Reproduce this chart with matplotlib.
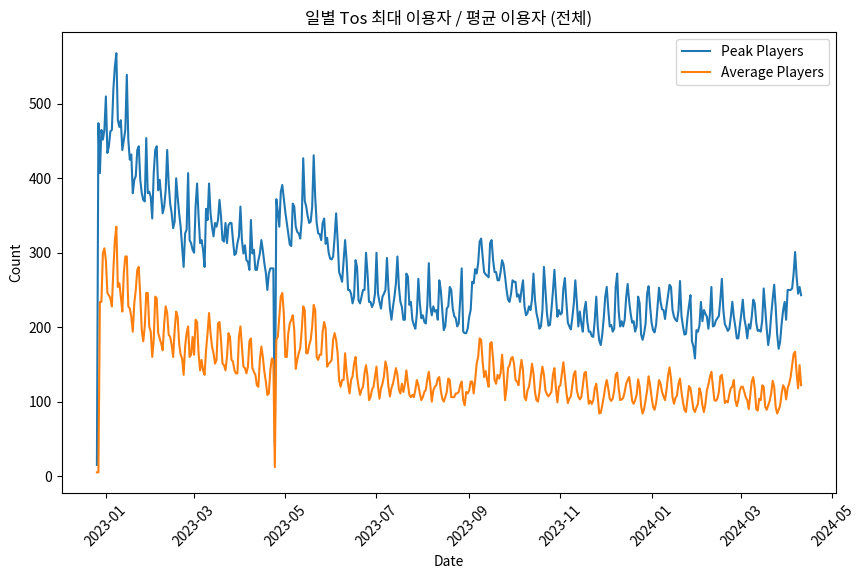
import matplotlib
matplotlib.use("Agg")
import matplotlib.pyplot as plt
import matplotlib.dates as mdates
import pandas as pd

start_date = "2022-12-26"

peak_players = [
    15,474,407,465,452,465,510,434,443,463,
    465,519,550,568,478,469,478,438,452,465,
    539,452,425,432,380,398,403,438,443,398,
    380,371,369,454,380,382,375,346,407,438,
    443,384,398,375,353,362,384,438,393,366,
    353,333,342,400,375,353,335,308,281,326,
    331,407,317,313,304,300,362,393,349,313,
    317,304,281,359,344,393,353,335,322,340,
    335,344,371,349,317,315,340,313,337,340,
    340,317,297,299,313,322,362,317,299,310,
    290,288,277,344,299,304,277,277,290,299,
    317,303,286,273,250,272,279,279,279,40,
    372,355,335,382,391,373,355,340,326,311,
    309,366,362,335,328,326,319,344,427,370,
    362,349,340,342,362,431,375,340,326,325,
    317,340,346,312,320,300,292,291,295,321,
    353,317,274,268,261,290,317,290,250,250,
    245,232,241,290,281,236,232,241,250,250,
    300,272,234,234,227,232,245,300,245,234,
    225,241,245,250,293,252,225,210,227,241,
    259,295,254,234,227,210,210,272,268,230,
    234,210,203,198,218,265,232,212,216,207,
    205,230,286,228,216,228,221,223,210,263,
    250,223,196,201,225,228,254,250,225,215,
    212,201,205,237,279,194,192,192,198,214,
    223,261,259,278,272,286,315,319,295,274,
    271,269,267,313,317,290,274,274,263,263,
    274,290,284,268,250,237,234,245,263,261,
    261,241,244,234,250,263,228,216,219,228,
    223,237,272,237,219,210,198,201,223,281,
    250,219,202,203,223,248,277,243,214,223,
    217,219,252,266,234,206,201,197,213,232,
    263,234,201,221,205,194,223,234,208,194,
    194,188,187,210,241,201,182,176,190,212,
    241,254,225,201,203,194,198,254,272,221,
    201,208,201,210,240,258,235,218,206,208,
    194,201,241,232,190,183,192,205,245,255,
    228,206,196,193,203,228,253,234,224,223,
    211,228,242,257,254,223,214,210,208,222,
    262,215,201,190,191,213,229,243,181,174,
    158,196,194,202,234,208,223,218,214,198,
    217,254,201,202,209,212,215,237,265,223,
    204,200,195,198,214,234,214,201,185,185,
    201,218,237,212,201,185,204,198,214,237,
    232,206,195,196,194,209,252,225,198,176,
    190,216,238,257,227,190,171,181,205,223,
    234,210,250,250,250,252,272,301,268,245,
    254,243,
]

average_players = [
    5,5,234,234,299,306,290,246,243,239,
    228,277,317,335,254,259,241,221,273,295,
    295,228,225,214,194,232,250,277,281,241,
    196,181,201,246,246,201,194,160,183,241,
    239,192,185,178,169,205,228,219,190,187,
    176,160,196,221,214,178,163,158,136,174,
    192,201,160,163,187,163,210,207,165,142,
    156,142,136,169,192,219,192,174,165,151,
    156,205,207,183,151,149,142,160,192,187,
    156,154,142,138,138,187,201,174,147,145,
    138,147,181,185,145,140,136,122,120,156,
    174,160,140,127,109,111,142,158,156,12,
    183,187,214,241,246,219,160,160,192,205,
    210,216,196,144,156,165,172,196,228,223,
    165,165,176,183,201,230,223,160,156,163,
    163,194,207,198,147,151,153,156,183,192,
    183,165,129,120,129,129,165,140,124,111,
    129,134,151,160,134,120,109,116,120,138,
    149,134,102,106,116,120,134,147,120,104,
    118,124,134,154,145,120,107,118,124,134,
    145,136,116,111,124,113,124,142,124,109,
    106,109,106,116,129,122,111,102,106,113,
    116,130,140,122,100,115,120,122,131,133,
    115,104,100,106,113,131,129,106,106,106,
    111,111,113,122,127,102,95,113,111,115,
    127,127,111,129,151,160,185,183,154,133,
    141,129,120,178,180,156,129,124,136,131,
    138,163,138,102,118,145,149,158,160,151,
    129,127,122,142,156,142,106,102,115,120,
    133,151,138,113,102,100,113,133,147,136,
    115,110,107,110,113,136,145,118,99,120,
    122,138,153,134,113,98,104,107,122,137,
    141,115,107,103,106,121,138,140,118,97,
    101,97,102,118,124,106,84,85,95,106,
    120,129,118,104,101,104,115,136,139,118,
    102,103,105,113,124,129,133,118,101,97,
    102,109,130,120,94,84,90,102,115,134,
    122,106,93,89,98,113,129,124,113,107,
    102,116,135,146,131,106,97,105,108,124,
    131,113,99,89,86,104,121,118,104,90,
    86,92,97,118,111,95,86,97,115,123,
    133,140,121,102,101,104,113,134,136,120,
    98,101,99,110,118,120,129,102,94,102,
    115,120,120,113,106,102,90,109,127,133,
    118,90,88,104,102,122,120,93,89,95,
    101,111,128,120,93,84,89,95,111,122,
    118,103,118,124,133,149,164,167,138,118,
    149,122,
]

title = "일별 Tos 최대 이용자 / 평균 이용자 (전체)"

plt.rcParams['font.family'] = ['Noto Sans CJK KR', 'DejaVu Sans']

dates = pd.date_range(start=start_date, periods=len(peak_players), freq="D")

W, H = 863, 578
fig = plt.figure(figsize=(W / 100, H / 100), dpi=100)
ax = fig.add_axes([61.7 / W, (H - 493.3) / H, 774.6 / W, 461.0 / H])

ax.plot(dates, peak_players, label="Peak Players", color="#1f77b4", linewidth=1.5)
ax.plot(dates, average_players, label="Average Players", color="#ff7f0e", linewidth=1.5)

ax.set_title(title, fontsize=12)
ax.set_xlabel("Date", fontsize=10)
ax.set_ylabel("Count", fontsize=10)
ax.xaxis.set_major_locator(mdates.MonthLocator(bymonth=[1, 3, 5, 7, 9, 11]))
ax.xaxis.set_major_formatter(mdates.DateFormatter("%Y-%m"))
for lbl in ax.get_xticklabels():
    lbl.set_rotation(45)
ax.tick_params(labelsize=10)
ax.legend(loc="upper right", fontsize=10)

fig.savefig("out.png", dpi=100)
